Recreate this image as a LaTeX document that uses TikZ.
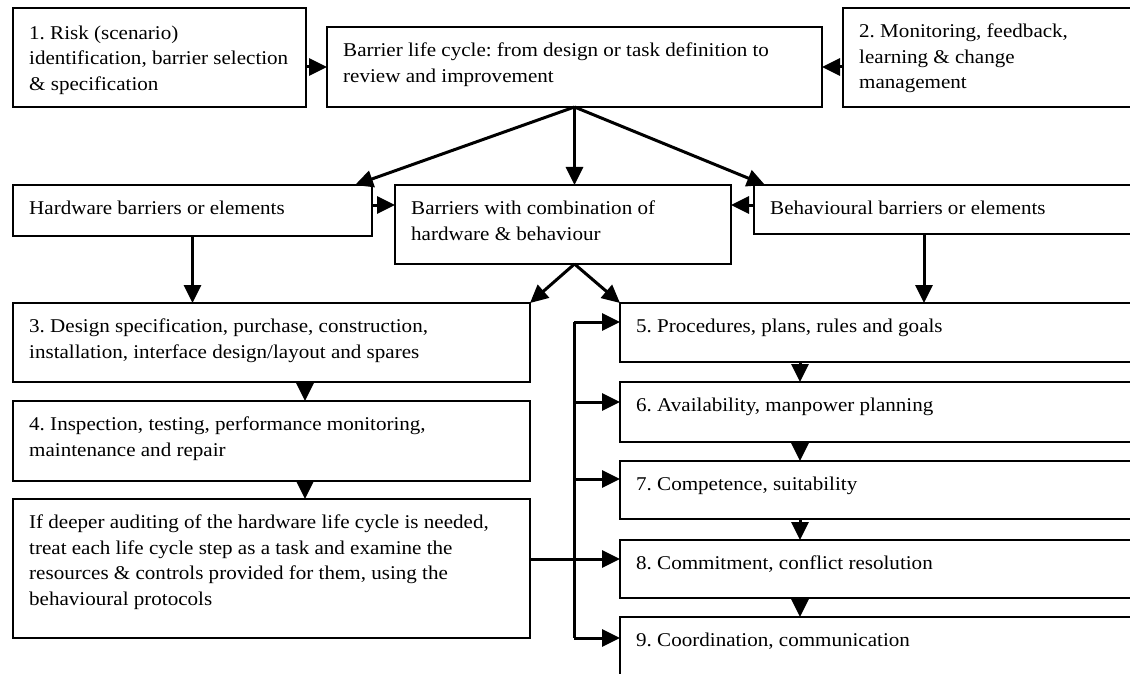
\documentclass[tikz,border=0pt]{standalone}
\usepackage{fontspec}
\setmainfont{Liberation Serif}[FakeStretch=1.08]
\usetikzlibrary{arrows.meta,calc}
\frenchspacing
\tikzset{
  boxst/.style={draw=black, line width=2pt, rectangle, inner sep=0pt, outer sep=0pt, anchor=north west},
  txt/.style={anchor=north west, inner sep=0pt, align=left, text=black, font=\fontsize{19.5}{25.5}\selectfont\frenchspacing},
  conn/.style={draw=black, line width=3pt, -{Triangle[length=18pt,width=17pt]}},
  busline/.style={draw=black, line width=3pt},
}
\newcommand\mkbox[5]{\node[boxst, minimum width=#4pt, minimum height=#5pt] (#1) at (#2,-#3) {};}
\newcommand\mktext[3][11.5]{\node[txt] (#2t) at ([xshift=16pt,yshift=-#1pt]#2.north west) {\strut #3};}
\begin{document}
\begin{tikzpicture}[x=1pt,y=1pt]
\useasboundingbox (0,0) rectangle (1130,-674);
\clip (0,0) rectangle (1130,-674);

% boxes
\mkbox{b1}{13}{8}{293}{99}
\mkbox{life}{327}{27}{495}{80}
\mkbox{b2}{843}{8}{300}{99}
\mkbox{hw}{13}{185}{359}{51}
\mkbox{comb}{395}{185}{336}{79}
\mkbox{beh}{754}{185}{390}{49}
\mkbox{b3}{13}{303}{517}{79}
\mkbox{b4}{13}{401}{517}{80}
\mkbox{b10}{13}{499}{517}{139}
\mkbox{b5}{620}{303}{520}{59}
\mkbox{b6}{620}{382}{520}{60}
\mkbox{b7}{620}{461}{520}{58}
\mkbox{b8}{620}{540}{520}{58}
\mkbox{b9}{620}{617}{520}{80}

% texts
\mktext[13]{b1}{1. Risk (scenario)\\identification, barrier selection\\\& specification}
\mktext{life}{Barrier life cycle: from design or task definition to\\review and improvement}
\mktext{b2}{2. Monitoring, feedback,\\learning \& change\\management}
\mktext{hw}{Hardware barriers or elements}
\mktext{comb}{Barriers with combination of\\hardware \& behaviour}
\mktext{beh}{Behavioural barriers or elements}
\mktext{b3}{3. Design specification, purchase, construction,\\installation, interface design/layout and spares}
\mktext{b4}{4. Inspection, testing, performance monitoring,\\maintenance and repair}
\mktext{b10}{If deeper auditing of the hardware life cycle is needed,\\treat each life cycle step as a task and examine the\\resources \& controls provided for them, using the\\behavioural protocols}
\mktext{b5}{5. Procedures, plans, rules and goals}
\mktext{b6}{6. Availability, manpower planning}
\mktext{b7}{7. Competence, suitability}
\mktext{b8}{8. Commitment, conflict resolution}
\mktext{b9}{9. Coordination, communication}

% helper coordinates
\coordinate (hy) at (0,-205);
\coordinate (lx) at (305,0);
\coordinate (rx) at (800,0);
\coordinate (bx) at (924,0);
\coordinate (bus) at (574,0);
\coordinate (p5) at ([yshift=-19pt]b5.north west);
\coordinate (p6) at ([yshift=-20pt]b6.north west);
\coordinate (p7) at ([yshift=-18pt]b7.north west);
\coordinate (p8) at ([yshift=-19pt]b8.north west);
\coordinate (p9) at ([yshift=-21pt]b9.north west);

% top row
\draw[conn] (b1.east |- life.west) -- (life.west);
\draw[conn] (b2.west |- life.west) -- (life.east);
% from life cycle
\draw[conn] (life.south) -- ([xshift=-17pt]hw.north east);
\draw[conn] (life.south) -- (life.south |- comb.north);
\draw[conn] (life.south) -- ([xshift=11pt]beh.north west);
% into combination
\draw[conn] (hw.east |- hy) -- (comb.west |- hy);
\draw[conn] (beh.west |- hy) -- (comb.east |- hy);
% down
\draw[conn] (hw.south) -- (hw.south |- b3.north);
\draw[conn] (bx |- beh.south) -- (bx |- b5.north);
\draw[conn] (life.south |- comb.south) -- (b3.north east);
\draw[conn] (life.south |- comb.south) -- (b5.north west);
% left chain
\draw[conn] (lx |- b3.south) -- (lx |- b4.north);
\draw[conn] (lx |- b4.south) -- (lx |- b10.north);
% right chain
\draw[conn] (rx |- b5.south) -- (rx |- b6.north);
\draw[conn] (rx |- b6.south) -- (rx |- b7.north);
\draw[conn] (rx |- b7.south) -- (rx |- b8.north);
\draw[conn] (rx |- b8.south) -- (rx |- b9.north);
% bus
\draw[busline] (bus |- p5) -- (bus |- p9);
\draw[conn] (bus |- p5) -- (p5);
\draw[conn] (bus |- p6) -- (p6);
\draw[conn] (bus |- p7) -- (p7);
\draw[conn] (b10.east |- p8) -- (p8);
\draw[conn] (bus |- p9) -- (p9);
\end{tikzpicture}
\end{document}
